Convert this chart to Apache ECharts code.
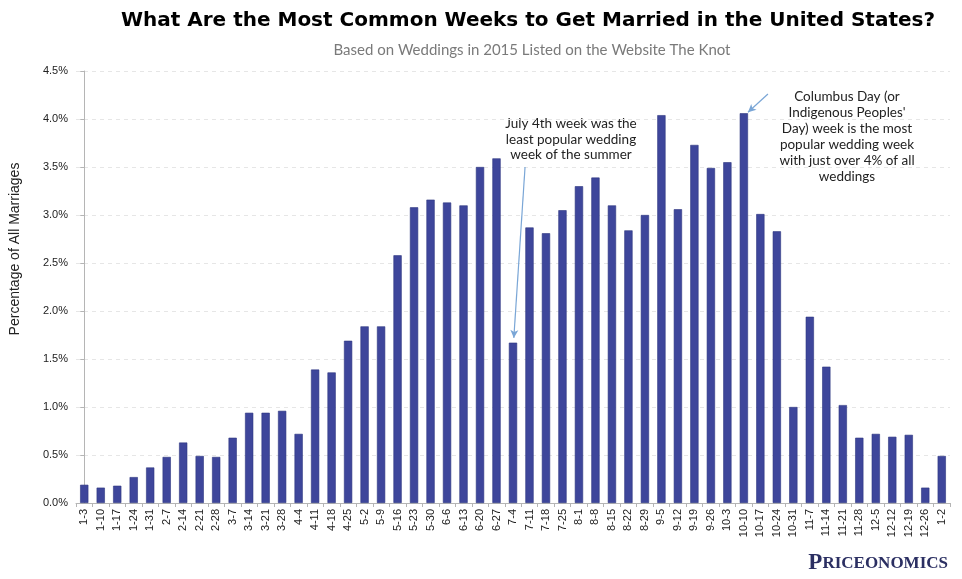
<!DOCTYPE html>
<html><head><meta charset="utf-8">
<script src="https://cdn.jsdelivr.net/npm/echarts@6/dist/echarts.min.js"></script>
<style>html,body{margin:0;padding:0;background:#fff}#c{width:962px;height:579px}</style>
</head><body><div id="c"></div>
<script>
const categories = ['1-3','1-10','1-17','1-24','1-31','2-7','2-14','2-21','2-28','3-7','3-14','3-21','3-28','4-4','4-11','4-18','4-25','5-2','5-9','5-16','5-23','5-30','6-6','6-13','6-20','6-27','7-4','7-11','7-18','7-25','8-1','8-8','8-15','8-22','8-29','9-5','9-12','9-19','9-26','10-3','10-10','10-17','10-24','10-31','11-7','11-14','11-21','11-28','12-5','12-12','12-19','12-26','1-2'];
const values = [0.19,0.16,0.18,0.27,0.37,0.48,0.63,0.49,0.48,0.68,0.94,0.94,0.96,0.72,1.39,1.36,1.69,1.84,1.84,2.58,3.08,3.16,3.13,3.10,3.50,3.59,1.67,2.87,2.81,3.05,3.30,3.39,3.10,2.84,3.00,4.04,3.06,3.73,3.49,3.55,4.06,3.01,2.83,1.00,1.94,1.42,1.02,0.68,0.72,0.69,0.71,0.16,0.49];
const yTicks = [0,0.5,1,1.5,2,2.5,3,3.5,4,4.5];
// annotation arrows: [fromIndex, fromValue, toIndex, toValue]
const arrows = [[26.73,3.50,26.05,1.72],[41.46,4.26,40.25,4.07]];

const chart = echarts.init(document.getElementById('c'));
chart.setOption({
  animation:false,
  title:[{text:'What Are the Most Common Weeks to Get Married in the United States?',left:523,top:6,textAlign:'center',
    textStyle:{fontFamily:'DejaVu Sans',fontWeight:'bold',fontSize:20,color:'#000'}},
    {text:'Based on Weddings in 2015 Listed on the Website The Knot',left:527,top:38,textAlign:'center',
    textStyle:{fontFamily:'Lato',fontWeight:'normal',fontSize:15,color:'#7a7a7a'}}],
  grid:{left:76,right:12,top:71,bottom:76},
  xAxis:[{type:'category',data:categories,boundaryGap:true,
    axisLine:{lineStyle:{color:'#b5b5b5'}},
    axisTick:{show:true,alignWithLabel:false,length:4,lineStyle:{color:'#b5b5b5'}},
    axisLabel:{rotate:90,interval:0,fontFamily:'Liberation Sans',fontSize:11,color:'#222',margin:6}},
    {type:'value',min:-0.5,max:52.5,show:false}],
  yAxis:{type:'value',min:0,max:4.5,interval:0.5,
    axisLine:{show:true,lineStyle:{color:'#b5b5b5'}},
    axisTick:{show:true,length:4,lineStyle:{color:'#b5b5b5'}},
    splitLine:{lineStyle:{color:'#e6e6e6',type:[4,4]}},
    axisLabel:{formatter:v=>v.toFixed(1)+'%',fontFamily:'Liberation Sans',fontSize:11,color:'#222',margin:8}},
  series:[{type:'bar',data:values,barWidth:'50%',
    itemStyle:{color:'#3e469b',borderColor:'#2e357f',borderWidth:0.6}},
    {type:'scatter',xAxisIndex:1,data:[],symbolSize:0,silent:true,
     markLine:{silent:true,symbol:['none','arrow'],symbolSize:[6,8],label:{show:false},
       lineStyle:{color:'#7aa6d6',width:1.2,type:'solid'},
       data:arrows.map(a=>[{coord:[a[0],a[1]]},{coord:[a[2],a[3]]}])}}],
  graphic:[
    {type:'text',rotation:Math.PI/2,position:[15,249],
      style:{text:'Percentage of All Marriages',fontFamily:'Liberation Sans',fontSize:14,fill:'#222',align:'center',verticalAlign:'middle'}},
    {type:'text',position:[571,116],style:{text:'July 4th week was the\nleast popular wedding\nweek of the summer',
      fontFamily:'Lato',fontSize:13.5,lineHeight:15.5,fill:'#222',align:'center'}},
    {type:'text',position:[847,89],style:{text:"Columbus Day (or\nIndigenous Peoples'\nDay) week is the most\npopular wedding week\nwith just over 4% of all\nweddings",
      fontFamily:'Lato',fontSize:13.5,lineHeight:16,fill:'#222',align:'center'}},
    {type:'text',position:[948,552],style:{text:'{a|P}{b|RICEONOMICS}',align:'right',
      rich:{a:{fontFamily:'Liberation Serif',fontWeight:'bold',fontSize:23,fill:'#2b2f62',color:'#2b2f62'},
            b:{fontFamily:'Liberation Serif',fontWeight:'bold',fontSize:17,fill:'#2b2f62',color:'#2b2f62'}}}}
  ]
});
</script></body></html>
